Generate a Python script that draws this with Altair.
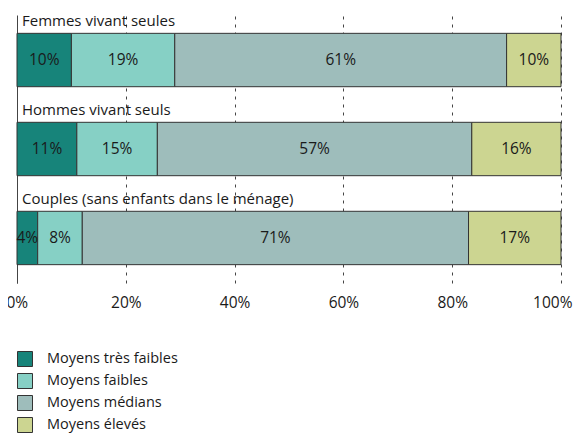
import altair as alt
import pandas as pd

groups = ["Femmes vivant seules", "Hommes vivant seuls", "Couples (sans enfants dans le ménage)"]
levels = ["Moyens très faibles", "Moyens faibles", "Moyens médians", "Moyens élevés"]
colors = ["#17847a", "#86d0c5", "#9ebdbb", "#ccd591"]

femmes = [10, 19, 61, 10]
hommes = [11, 14.8, 57.8, 16.4]
couples = [3.8, 8.2, 71, 17]
femmes_lbl = ["10%", "19%", "61%", "10%"]
hommes_lbl = ["11%", "15%", "57%", "16%"]
couples_lbl = ["4%", "8%", "71%", "17%"]

ticks = [0, 20, 40, 60, 80, 100]

rows = []
for g, vals, lbls in zip(groups, [femmes, hommes, couples], [femmes_lbl, hommes_lbl, couples_lbl]):
    acc = 0
    for lev, v, l in zip(levels, vals, lbls):
        rows.append({"group": g, "level": lev, "start": acc, "end": acc + v,
                     "mid": acc + v / 2, "label": l})
        acc += v
df = pd.DataFrame(rows)
gdf = pd.DataFrame({"group": groups})

FONT = "Open Sans"
TXT = "#1a1a1a"

yscale = alt.Scale(domain=groups, paddingInner=0.4, paddingOuter=0.206)
xscale = alt.Scale(domain=[0, 100], nice=False)

bars = alt.Chart(df).mark_bar(stroke="#333333", strokeWidth=1).encode(
    x=alt.X("start:Q", scale=xscale, title=None,
            axis=alt.Axis(values=ticks, labelExpr="datum.value + '%'", domain=False, ticks=False,
                          grid=True, gridDash=[3, 5], gridColor="#444444", gridWidth=1,
                          labelFlush=True, labelFlushOffset=11,
                          labelFont=FONT, labelFontSize=15.5, labelColor=TXT, labelPadding=12)),
    x2="end:Q",
    y=alt.Y("group:N", scale=yscale, title=None,
            axis=alt.Axis(labels=False, ticks=False, domain=True, domainColor="#444444",
                          grid=False)),
    fill=alt.Fill("level:N", scale=alt.Scale(domain=levels, range=colors),
                  legend=alt.Legend(title=None, orient="none", legendX=0, legendY=336,
                                    symbolType="square", symbolSize=225,
                                    symbolStrokeColor="#333333", symbolStrokeWidth=1,
                                    labelFont=FONT, labelFontSize=14.5, labelColor=TXT,
                                    labelOffset=14, rowPadding=2)),
)

pct = alt.Chart(df).mark_text(font=FONT, fontSize=15.5, color=TXT, baseline="middle").encode(
    x=alt.X("mid:Q", scale=xscale),
    y=alt.Y("group:N", scale=yscale),
    text="label:N",
)

cats = alt.Chart(gdf).mark_text(font=FONT, fontSize=15, color=TXT, align="left",
                                baseline="alphabetic", dy=-34).encode(
    x=alt.value(5),
    y=alt.Y("group:N", scale=yscale),
    text="group:N",
)

chart = alt.layer(bars, pct, cats).properties(
    width=544, height=268, autosize="none",
    padding={"left": 9, "top": 7, "right": 15, "bottom": 150},
).configure_view(stroke=None)

chart.save("out.html", embed_options={"renderer": "svg", "actions": False})
